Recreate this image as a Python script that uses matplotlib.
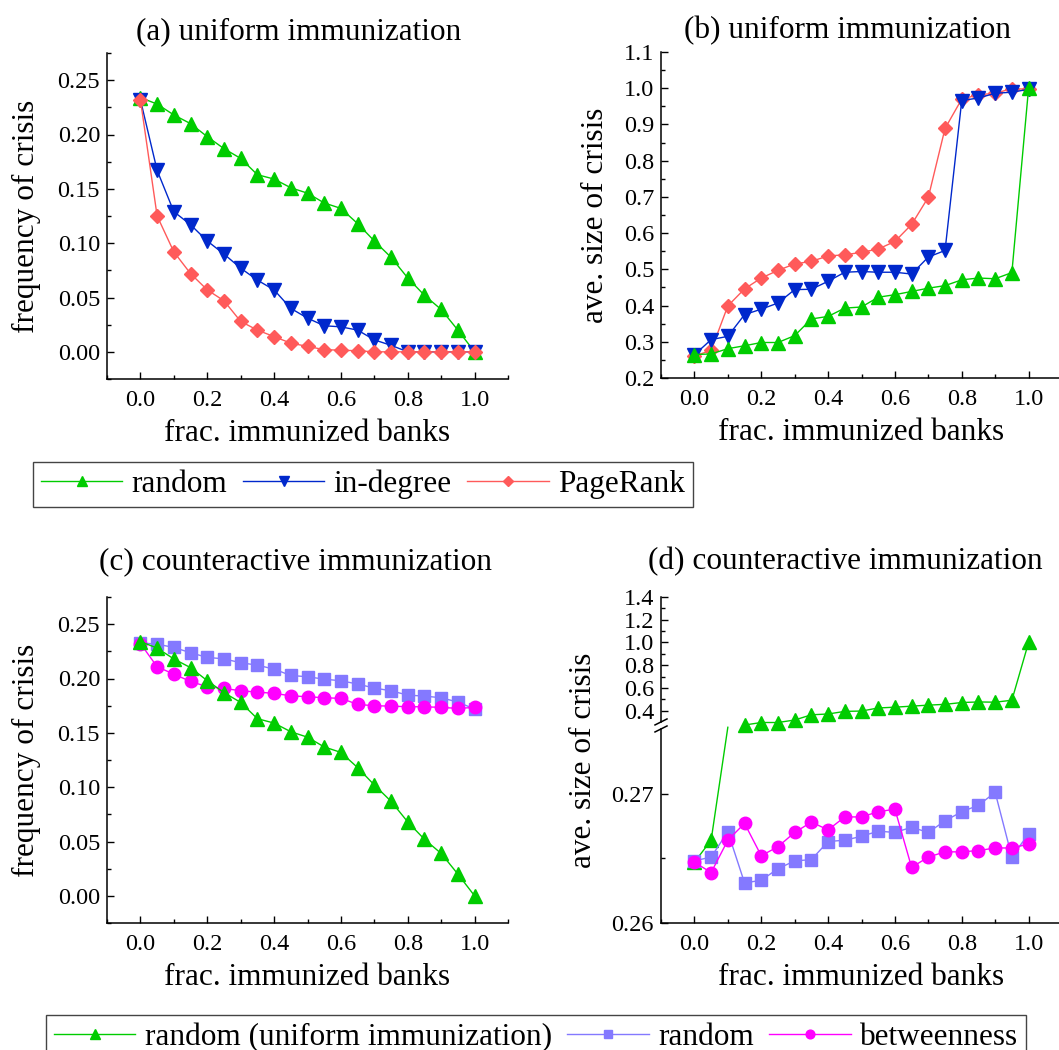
import numpy as np
import matplotlib
matplotlib.use('Agg')
import matplotlib.pyplot as plt
from matplotlib.ticker import MultipleLocator, FixedLocator, FormatStrFormatter, FixedFormatter

plt.rcParams['font.family'] = ['Liberation Serif', 'DejaVu Serif']

# fraction of immunized banks
frac = [0.0, 0.05, 0.1, 0.15, 0.2, 0.25, 0.3, 0.35, 0.4, 0.45, 0.5,
        0.55, 0.6, 0.65, 0.7, 0.75, 0.8, 0.85, 0.9, 0.95, 1.0]

# (a) frequency of crisis, uniform immunization
freq_random = [0.234, 0.228, 0.218, 0.210, 0.198, 0.187, 0.178, 0.163, 0.159, 0.151, 0.146,
               0.137, 0.132, 0.118, 0.102, 0.087, 0.068, 0.052, 0.039, 0.020, 0.000]
freq_indegree = [0.232, 0.167, 0.129, 0.117, 0.102, 0.090, 0.077, 0.066, 0.057, 0.040, 0.031,
                 0.024, 0.023, 0.020, 0.011, 0.006, 0.000, 0.000, 0.000, 0.000, 0.000]
freq_pagerank = [0.232, 0.125, 0.092, 0.072, 0.057, 0.047, 0.028, 0.020, 0.014, 0.008, 0.005,
                 0.002, 0.0015, 0.001, 0.000, 0.000, 0.000, 0.000, 0.000, 0.000, 0.000]

# (b) average size of crisis, uniform immunization
size_random = [0.2647, 0.2664, 0.281, 0.289, 0.298, 0.298, 0.317, 0.363, 0.370, 0.393, 0.396,
               0.423, 0.430, 0.439, 0.448, 0.455, 0.471, 0.476, 0.474, 0.491, 1.000]
size_indegree = [0.264, 0.306, 0.315, 0.375, 0.390, 0.407, 0.444, 0.445, 0.467, 0.492, 0.494,
                 0.492, 0.492, 0.487, 0.534, 0.552, 0.966, 0.973, 0.986, 0.989, 0.997]
size_pagerank = [0.261, 0.276, 0.399, 0.446, 0.476, 0.497, 0.515, 0.522, 0.537, 0.540, 0.547,
                 0.556, 0.577, 0.624, 0.699, 0.889, 0.970, 0.982, 0.986, 0.999, 0.997]

# (c) frequency of crisis, counteractive immunization
freq_counter_random = [0.2328, 0.2316, 0.2286, 0.2237, 0.2194, 0.2181, 0.2145, 0.2123, 0.2086, 0.2028, 0.2016,
                       0.1994, 0.1979, 0.1949, 0.1912, 0.1887, 0.1847, 0.1838, 0.1823, 0.1783, 0.1719]
freq_betweenness = [0.2322, 0.2108, 0.2040, 0.1973, 0.1924, 0.1909, 0.1887, 0.1875, 0.1863, 0.1841, 0.1832,
                    0.1823, 0.1817, 0.1762, 0.1749, 0.1746, 0.1740, 0.1740, 0.1734, 0.1725, 0.1734]

# (d) average size of crisis, counteractive immunization
size_counter_random = [0.2648, 0.2651, 0.26705, 0.2631, 0.2633, 0.2642, 0.2648, 0.2649, 0.2663, 0.2664, 0.2667,
                       0.2671, 0.2670, 0.2674, 0.2670, 0.2679, 0.2686, 0.2691, 0.2701, 0.2651, 0.2669]
size_betweenness = [0.2647, 0.2639, 0.2664, 0.2677, 0.2652, 0.2659, 0.2670, 0.2678, 0.2672, 0.2682, 0.2682,
                    0.2686, 0.2688, 0.2643, 0.2651, 0.2655, 0.2655, 0.2656, 0.2658, 0.2658, 0.2661]

GREEN = '#00CC00'
BLUE = '#0028CC'
RED = '#FF5A5A'
PURPLE = '#8479FF'
MAGENTA = '#FF00FF'

TITLE_FS = 22.5
LABEL_FS = 22.5
TICK_FS = 17.5

W, H = 1059, 1050
fig = plt.figure(figsize=(W / 100, H / 100), dpi=100)


def px_axes(left, top, right, bottom):
    return fig.add_axes([left / W, 1 - bottom / H, (right - left) / W, (bottom - top) / H])


def style(ax):
    for s in ['top', 'right']:
        ax.spines[s].set_visible(False)
    for s in ['left', 'bottom']:
        ax.spines[s].set_linewidth(1.1)
    ax.tick_params(which='both', direction='in', labelsize=TICK_FS, width=1.0)
    ax.tick_params(which='major', length=5)
    ax.tick_params(which='minor', length=3)
    ax.tick_params(axis='x', pad=8)
    ax.tick_params(axis='y', pad=5)
    ax.set_xlim(-0.1, 1.1)
    ax.xaxis.set_major_locator(MultipleLocator(0.2))
    ax.xaxis.set_minor_locator(MultipleLocator(0.1))
    ax.xaxis.set_major_formatter(FormatStrFormatter('%.1f'))
    ax.set_xlabel('frac. immunized banks', fontsize=LABEL_FS, labelpad=6)


lw = 1.0
ax_a = px_axes(107, 53, 508, 379)
ax_b = px_axes(661, 52, 1062, 378)
ax_c = px_axes(107, 597, 508, 923)
ax_d = px_axes(661, 597, 1062, 923)

# (a)
ax_a.plot(frac, freq_random, color=GREEN, lw=lw, marker='^', ms=10, mec=GREEN, label='random')
ax_a.plot(frac, freq_indegree, color=BLUE, lw=lw, marker='v', ms=10, mec=BLUE, label='in-degree')
ax_a.plot(frac, freq_pagerank, color=RED, lw=lw, marker='D', ms=7.5, mec=RED, label='PageRank')
style(ax_a)
ax_a.set_ylim(-0.025, 0.275)
ax_a.yaxis.set_major_locator(MultipleLocator(0.05))
ax_a.yaxis.set_minor_locator(MultipleLocator(0.025))
ax_a.yaxis.set_major_formatter(FormatStrFormatter('%.2f'))
ax_a.set_ylabel('frequency of crisis', fontsize=LABEL_FS)
ax_a.yaxis.set_label_coords(-0.165, 0.5)
ax_a.set_title('(a) uniform immunization', fontsize=TITLE_FS, pad=10, x=0.477)

# (b)
ax_b.plot(frac, size_pagerank, color=RED, lw=lw, marker='D', ms=7.5, mec=RED)
ax_b.plot(frac, size_indegree, color=BLUE, lw=lw, marker='v', ms=10, mec=BLUE)
ax_b.plot(frac, size_random, color=GREEN, lw=lw, marker='^', ms=10, mec=GREEN)
style(ax_b)
ax_b.set_ylim(0.2, 1.1)
ax_b.yaxis.set_major_locator(MultipleLocator(0.1))
ax_b.yaxis.set_minor_locator(MultipleLocator(0.05))
ax_b.yaxis.set_major_formatter(FormatStrFormatter('%.1f'))
ax_b.set_ylabel('ave. size of crisis', fontsize=LABEL_FS)
ax_b.yaxis.set_label_coords(-0.127, 0.5)
ax_b.set_title('(b) uniform immunization', fontsize=TITLE_FS, pad=10, x=0.466)

# (c)
ax_c.plot(frac, freq_counter_random, color=PURPLE, lw=lw, marker='s', ms=8, mec=PURPLE, label='random')
ax_c.plot(frac, freq_betweenness, color=MAGENTA, lw=lw, marker='o', ms=9, mec=MAGENTA, label='betweenness')
ax_c.plot(frac, freq_random, color=GREEN, lw=lw, marker='^', ms=10, mec=GREEN,
          label='random (uniform immunization)')
style(ax_c)
ax_c.set_ylim(-0.025, 0.275)
ax_c.yaxis.set_major_locator(MultipleLocator(0.05))
ax_c.yaxis.set_minor_locator(MultipleLocator(0.025))
ax_c.yaxis.set_major_formatter(FormatStrFormatter('%.2f'))
ax_c.set_ylabel('frequency of crisis', fontsize=LABEL_FS)
ax_c.yaxis.set_label_coords(-0.165, 0.5)
ax_c.set_title('(c) counteractive immunization', fontsize=TITLE_FS, pad=20, x=0.469)

# (d) broken y axis: 0.26-0.275 below, 0.30-1.4 above, compressed gap between
LOW0, LOW1, HIGH0, HIGH1 = 0.26, 0.275, 0.30, 1.4
P_LOW, P_GAP, P_HIGH = 193.5, 7.0, 124.6


def fwd(y):
    y = np.asarray(y, dtype=float)
    lo = (y - LOW0) / (LOW1 - LOW0) * P_LOW
    gap = P_LOW + (y - LOW1) / (HIGH0 - LOW1) * P_GAP
    hi = P_LOW + P_GAP + (y - HIGH0) / (HIGH1 - HIGH0) * P_HIGH
    return np.where(y <= LOW1, lo, np.where(y <= HIGH0, gap, hi))


def inv(p):
    p = np.asarray(p, dtype=float)
    lo = LOW0 + p / P_LOW * (LOW1 - LOW0)
    gap = LOW1 + (p - P_LOW) / P_GAP * (HIGH0 - LOW1)
    hi = HIGH0 + (p - P_LOW - P_GAP) / P_HIGH * (HIGH1 - HIGH0)
    return np.where(p <= P_LOW, lo, np.where(p <= P_LOW + P_GAP, gap, hi))


ax_d.set_yscale('function', functions=(fwd, inv))
ax_d.plot(frac[:3], size_random[:3], color=GREEN, lw=lw, marker='^', ms=10, mec=GREEN, markevery=[0, 1])
ax_d.plot(frac[3:], size_random[3:], color=GREEN, lw=lw, marker='^', ms=10, mec=GREEN)
ax_d.plot(frac, size_counter_random, color=PURPLE, lw=lw, marker='s', ms=8, mec=PURPLE)
ax_d.plot(frac, size_betweenness, color=MAGENTA, lw=lw, marker='o', ms=9, mec=MAGENTA)
style(ax_d)
ax_d.set_ylim(LOW0, HIGH1)
major_d = [0.26, 0.27, 0.4, 0.6, 0.8, 1.0, 1.2, 1.4]
ax_d.yaxis.set_major_locator(FixedLocator(major_d))
ax_d.yaxis.set_major_formatter(FixedFormatter(['0.26', '0.27', '0.4', '0.6', '0.8', '1.0', '1.2', '1.4']))
ax_d.yaxis.set_minor_locator(FixedLocator([0.265, 0.5, 0.7, 0.9, 1.1, 1.3]))
ax_d.set_ylabel('ave. size of crisis', fontsize=LABEL_FS)
ax_d.yaxis.set_label_coords(-0.157, 0.5)
ax_d.set_title('(d) counteractive immunization', fontsize=TITLE_FS, pad=20, x=0.459)

# left spine drawn in two pieces with break marks
ax_d.spines['left'].set_visible(False)
tot = P_LOW + P_GAP + P_HIGH
f_lo = P_LOW / tot
f_hi = (P_LOW + P_GAP) / tot
ax_d.plot([0, 0], [0, f_lo], transform=ax_d.transAxes, color='k', lw=1.1, clip_on=False)
ax_d.plot([0, 0], [f_hi, 1], transform=ax_d.transAxes, color='k', lw=1.1, clip_on=False)
dx = 6 / 401
dy = 3 / 326
for yc in (f_lo, f_hi):
    ax_d.plot([-dx, dx], [yc - dy, yc + dy], transform=ax_d.transAxes, color='k', lw=1.1, clip_on=False)

# legends
h_a, l_a = ax_a.get_legend_handles_labels()
fig.legend(h_a, l_a, loc='center', bbox_to_anchor=(363 / W, 1 - 484.5 / H), ncol=3,
           fontsize=LABEL_FS, frameon=True, fancybox=False, edgecolor='#444444',
           handlelength=2.6, handletextpad=0.3, columnspacing=0.5, markerscale=0.7,
           borderpad=0.25, framealpha=1)

h_c, l_c = ax_c.get_legend_handles_labels()
order = [2, 0, 1]
fig.legend([h_c[i] for i in order], [l_c[i] for i in order], loc='upper center',
           bbox_to_anchor=(536 / W, 1 - 1015 / H), borderaxespad=0, ncol=3,
           fontsize=LABEL_FS, frameon=True, fancybox=False, edgecolor='#444444',
           handlelength=2.6, handletextpad=0.3, columnspacing=0.5, markerscale=0.7,
           borderpad=0.25, framealpha=1)

fig.savefig('out.png', dpi=100)
